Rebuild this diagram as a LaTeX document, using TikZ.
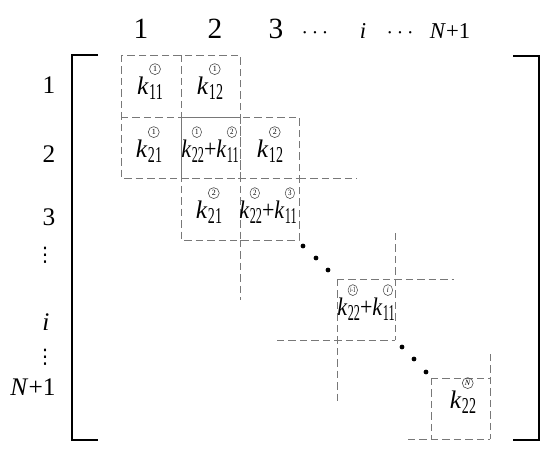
\documentclass[tikz,border=0pt]{standalone}
\usepackage{fontspec}
\setmainfont{Liberation Serif}
\newfontfamily\dotsfont{DejaVu Sans}
\usepackage{graphicx}

\definecolor{dashgray}{RGB}{120,120,120}

\tikzset{
    elemline/.style={draw=dashgray, line width=0.6pt, dash pattern=on 5.6pt off 3pt},
    bracket/.style={line width=1.7pt},
    headbig/.style={font=\fontsize{22}{26}\selectfont, inner sep=0pt, anchor=base},
    headsmall/.style={font=\fontsize{17}{20}\selectfont, inner sep=0pt, anchor=base},
    rowlbl/.style={font=\fontsize{19}{22}\selectfont, inner sep=0pt, anchor=base},
    rowdots/.style={font=\dotsfont\fontsize{15}{16}\selectfont, inner sep=0pt},
    entry/.style={font=\fontsize{19}{22}\selectfont, inner sep=0pt, anchor=base}
}

% circled element number, subscript and stiffness entry
\newcommand{\cnum}[1]{\tikz[baseline=-2.2pt]\node[draw=black!70, circle, line width=0.45pt, inner sep=0pt, minimum size=8.2pt, font=\fontsize{6}{6}\selectfont]{#1};}
\newcommand{\ksub}[1]{\raisebox{-4pt}{\fontsize{17}{18}\selectfont\scalebox{0.62}[1]{#1}}}
\newcommand{\kent}[2]{\textit{k}\kern0.3pt\rlap{\raisebox{14.5pt}{\cnum{#2}}}\ksub{#1}}
\newcommand{\kpair}[2]{\scalebox{0.87}[1]{#1+#2}}

\begin{document}
\begin{tikzpicture}[x=0.75pt, y=-0.75pt]
    \useasboundingbox (0,0) rectangle (550,454);

    % Column numbers
    \node[headbig] (c1) at (141,38) {1};
    \node[headbig] (c2) at (215,38) {2};
    \node[headbig] (c3) at (276,38) {3};
    \node[headsmall] (cd1) at (315,38) {$\cdots$};
    \node[headsmall] (ci) at (363,38) {\textit{i}};
    \node[headsmall] (cd2) at (400,38) {$\cdots$};
    \node[headsmall] (cN) at (450,38) {\textit{N}+1};

    % Row numbers
    \node[rowlbl] (r1) at (49,93) {1};
    \node[rowlbl] (r2) at (49,162) {2};
    \node[rowlbl] (r3) at (49,225) {3};
    \node[rowdots] (rd1) at (45,255) {⋮};
    \node[rowlbl] (ri) at (46,330) {\textit{i}};
    \node[rowdots] (rd2) at (45,357) {⋮};
    \node[rowlbl] (rN) at (33,395) {\textit{N}+1};

    % Brackets
    \draw[bracket] (98,55) -- (72,55) -- (72,440) -- (98,440);
    \draw[bracket] (513,56) -- (539,56) -- (539,440) -- (513,440);

    % Element 1
    \draw[elemline] (121,55) rectangle (240,178);
    \draw[elemline] (181,55) -- (181,178);
    \draw[elemline] (121,117) -- (240,117);

    % Element 2
    \draw[elemline] (181,117) rectangle (299,240);
    \draw[elemline] (240,117) -- (240,240);
    \draw[elemline] (181,178) -- (299,178);

    % Element 3 (partial)
    \draw[elemline] (299,178) -- (357,178);
    \draw[elemline] (240,240) -- (240,300);

    % Elements i-1 and i (partial)
    \draw[elemline] (395,233) -- (395,340);
    \draw[elemline] (277,340) -- (395,340);
    \draw[elemline] (337,279) -- (454,279);
    \draw[elemline] (337,279) -- (337,402);

    % Element N (partial)
    \draw[elemline] (490,354) -- (490,439);
    \draw[elemline] (408,439) -- (490,439);
    \draw[elemline] (431,378) -- (490,378);
    \draw[elemline] (431,378) -- (431,439);

    % Entries
    \node[entry] (e11) at (150,94) {\kent{11}{1}};
    \node[entry] (e12) at (210,94) {\kent{12}{1}};
    \node[entry] (e21) at (149,157) {\kent{21}{1}};
    \node[entry] (e22) at (210,157) {\kpair{\kent{22}{1}}{\kent{11}{2}}};
    \node[entry] (e23) at (270,157) {\kent{12}{2}};
    \node[entry] (e32) at (209,218) {\kent{21}{2}};
    \node[entry] (e33) at (268,218) {\kpair{\kent{22}{2}}{\kent{11}{3}}};
    \node[entry] (eii) at (366,315) {\kpair{\kent{22}{\scalebox{0.7}[1]{\textit{i}-1}}}{\kent{11}{\textit{i}}}};
    \node[entry] (eNN) at (463,408) {\kent{22}{\textit{N}}};

    % Diagonal dots
    \foreach \p in {(303,246),(316,258),(328,270),(402,347),(414,359),(426,372)}
        \fill \p circle[radius=1.8pt];
\end{tikzpicture}
\end{document}
